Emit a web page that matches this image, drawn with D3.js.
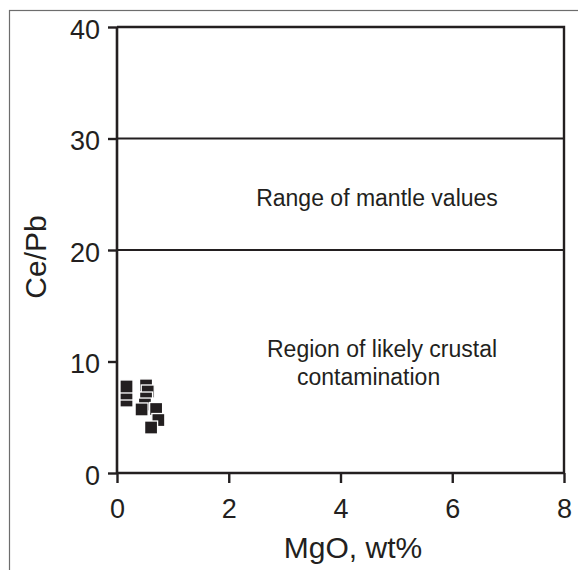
<!DOCTYPE html>
<html>
<head>
<meta charset="utf-8">
<script src="https://cdn.jsdelivr.net/npm/d3@7"></script>
<style>
  html, body { margin: 0; padding: 0; background: #fff; }
  svg { display: block; }
  text { font-family: "Liberation Sans", Arial, sans-serif; fill: #231f20; }
</style>
</head>
<body>
<svg id="chart" width="578" height="570"></svg>
<script>
// MgO (wt%) and Ce/Pb for each sample, in drawing order
const mgo  = [0.17, 0.17, 0.17, 0.52, 0.55, 0.52, 0.50, 0.44, 0.70, 0.74, 0.61];
const cePb = [6.50, 7.13, 7.76, 7.85, 7.31, 6.68, 6.14, 5.70, 5.74, 4.75, 4.08];

const xTicks = [0, 2, 4, 6, 8];
const yTicks = [0, 10, 20, 30, 40];
// Boundaries of the mantle Ce/Pb range
const mantleBounds = [20, 30];

const ink = "#231f20";
const svg = d3.select("#chart");

// outer frame
svg.append("rect")
  .attr("x", 9.5).attr("y", 10.5)
  .attr("width", 620).attr("height", 620)
  .attr("fill", "none").attr("stroke", "#6d6d6d").attr("stroke-width", 1.2);

const x = d3.scaleLinear().domain([0, 8]).range([117, 564]);
const y = d3.scaleLinear().domain([0, 40]).range([473, 27]);

// plot box: top and right edges
svg.append("path")
  .attr("d", `M${x(0)},${y(40)}H${x(8)}V${y(0)}`)
  .attr("fill", "none").attr("stroke", ink).attr("stroke-width", 2.4);

// mantle range lines
svg.selectAll("line.bound").data(mantleBounds).join("line")
  .attr("class", "bound")
  .attr("x1", x(0)).attr("x2", x(8))
  .attr("y1", d => y(d)).attr("y2", d => y(d))
  .attr("stroke", ink).attr("stroke-width", 2);

// axes
const xAxis = svg.append("g").attr("transform", `translate(0,${y(0)})`)
  .call(d3.axisBottom(x).tickValues(xTicks).tickSize(10).tickPadding(16).tickFormat(d3.format("d")));
const yAxis = svg.append("g").attr("transform", `translate(${x(0)},0)`)
  .call(d3.axisLeft(y).tickValues(yTicks).tickSize(9).tickPadding(8).tickFormat(d3.format("d")));

[xAxis, yAxis].forEach(g => {
  g.select(".domain").attr("stroke", ink).attr("stroke-width", 2.6);
  g.selectAll(".tick line").attr("stroke", ink).attr("stroke-width", 2.4);
  g.selectAll(".tick text")
    .style("font-family", '"Liberation Sans", Arial, sans-serif')
    .style("font-size", "27px").attr("fill", ink);
});
yAxis.selectAll(".tick text").attr("dy", "0.42em");
xAxis.select(".domain").attr("d", `M${x(0)},0H${x(8)}`);
yAxis.select(".domain").attr("d", `M0,${y(0)}V${y(40)}`);

// axis titles
svg.append("text")
  .attr("x", 353).attr("y", 558)
  .attr("text-anchor", "middle")
  .style("font-size", "30px")
  .text("MgO, wt%");

svg.append("text")
  .attr("transform", `translate(46,257) rotate(-90)`)
  .attr("text-anchor", "middle")
  .style("font-size", "30px")
  .text("Ce/Pb");

// region annotations
svg.append("text")
  .attr("x", 377).attr("y", 206)
  .attr("text-anchor", "middle")
  .style("font-size", "23px")
  .text("Range of mantle values");

svg.append("text")
  .attr("x", 267).attr("y", 357)
  .style("font-size", "23px")
  .text("Region of likely crustal");
svg.append("text")
  .attr("x", 297).attr("y", 385)
  .style("font-size", "23px")
  .text("contamination");

// samples as filled squares with a white rim
const s = 13;
svg.selectAll("rect.pt").data(mgo.map((m, i) => [m, cePb[i]])).join("rect")
  .attr("class", "pt")
  .attr("x", d => x(d[0]) - s / 2)
  .attr("y", d => y(d[1]) - s / 2)
  .attr("width", s).attr("height", s)
  .attr("fill", ink)
  .attr("stroke", "#fff").attr("stroke-width", 1.3);
</script>
</body>
</html>
